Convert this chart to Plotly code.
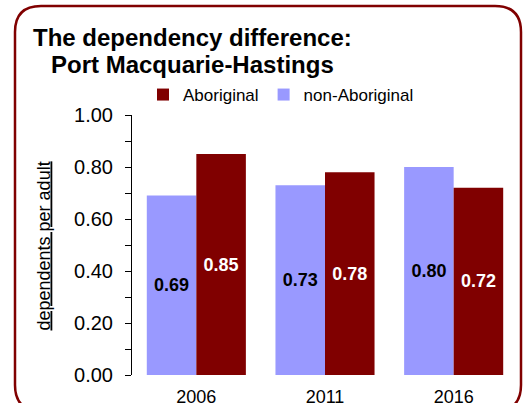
import plotly.graph_objects as go

years = ["2006", "2011", "2016"]
non_aboriginal = [0.69, 0.73, 0.80]
aboriginal = [0.85, 0.78, 0.72]
y_ticks = [0.0, 0.2, 0.4, 0.6, 0.8, 1.0]

W, H = 529, 403
L, R, T, B = 132, 11, 115, 28
PW, PH = W - L - R, H - T - B

def px_x(p):
    return (p - L) / PW

def px_y(p):
    return (H - B - p) / PH

fig = go.Figure()
fig.add_trace(go.Bar(
    x=years, y=non_aboriginal, name="non-Aboriginal",
    marker=dict(color="#9999FF", line=dict(width=0)),
    texttemplate="%{y:.2f}", textposition="inside", insidetextanchor="middle",
    textfont=dict(family="Liberation Sans, Arial", size=18, color="black", weight="bold"),
    textangle=0,
))
fig.add_trace(go.Bar(
    x=years, y=aboriginal, name="Aboriginal",
    marker=dict(color="#800000", line=dict(width=0)),
    texttemplate="%{y:.2f}", textposition="inside", insidetextanchor="middle",
    textfont=dict(family="Liberation Sans, Arial", size=18, color="white", weight="bold"),
    textangle=0,
))

# rounded border
x0, x1, y0, y1, r = 15, 521, 6, 411, 26
path = (f"M {px_x(x0+r)},{px_y(y0)} L {px_x(x1-r)},{px_y(y0)} "
        f"Q {px_x(x1)},{px_y(y0)} {px_x(x1)},{px_y(y0+r)} "
        f"L {px_x(x1)},{px_y(y1-r)} Q {px_x(x1)},{px_y(y1)} {px_x(x1-r)},{px_y(y1)} "
        f"L {px_x(x0+r)},{px_y(y1)} Q {px_x(x0)},{px_y(y1)} {px_x(x0)},{px_y(y1-r)} "
        f"L {px_x(x0)},{px_y(y0+r)} Q {px_x(x0)},{px_y(y0)} {px_x(x0+r)},{px_y(y0)} Z")
fig.add_shape(type="path", path=path, xref="paper", yref="paper",
              line=dict(color="#800000", width=2.5), layer="above")

title_font = dict(family="Liberation Sans, Arial", size=24, color="black", weight="bold")
fig.add_annotation(text="The dependency difference:", x=px_x(31), y=px_y(38),
                   xref="paper", yref="paper", xanchor="left", yanchor="middle",
                   showarrow=False, font=title_font)
fig.add_annotation(text="Port Macquarie-Hastings", x=px_x(49), y=px_y(64),
                   xref="paper", yref="paper", xanchor="left", yanchor="middle",
                   showarrow=False, font=title_font)
fig.add_annotation(text="<u>dependents per adult</u>", x=px_x(43), y=px_y(246.5),
                   xref="paper", yref="paper", xanchor="center", yanchor="middle",
                   textangle=-90, showarrow=False,
                   font=dict(family="Liberation Sans, Arial", size=18, color="black"))

fig.update_layout(
    width=W, height=H,
    margin=dict(l=L, r=R, t=T, b=B, pad=0, autoexpand=False),
    paper_bgcolor="white", plot_bgcolor="white",
    barmode="group", bargap=0.23, bargroupgap=0,
    showlegend=True,
    legend=dict(orientation="h", x=px_x(143), xanchor="left", y=px_y(95), yanchor="middle",
                traceorder="reversed",
                font=dict(family="Liberation Sans, Arial", size=17, color="black"),
                bgcolor="rgba(0,0,0,0)", borderwidth=0),
    font=dict(family="Liberation Sans, Arial", color="black"),
)
fig.update_xaxes(type="category", range=[-0.5, 2.5], showline=False, ticks="",
                 showgrid=False, zeroline=False,
                 tickfont=dict(family="Liberation Sans, Arial", size=18, color="black"),
                 ticklabelstandoff=9)
fig.update_yaxes(range=[0, 1], tickvals=y_ticks, tickformat=".2f",
                 showline=True, linecolor="black", linewidth=1,
                 ticks="outside", ticklen=6, tickcolor="black", tickwidth=1,
                 minor=dict(dtick=0.1, ticks="outside", ticklen=6, tickcolor="black", tickwidth=1, showgrid=False),
                 showgrid=False, zeroline=False,
                 tickfont=dict(family="Liberation Sans, Arial", size=20, color="black"),
                 ticklabelstandoff=8)

fig.write_html("out.html", config={"displayModeBar": False},
               post_script="document.body.style.margin='0';document.body.style.overflow='hidden';")
